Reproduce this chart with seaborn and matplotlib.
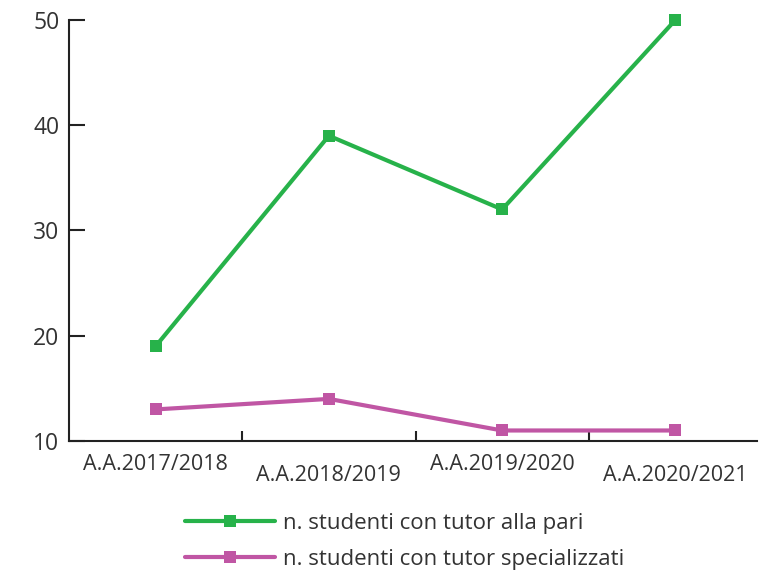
import matplotlib
matplotlib.use("Agg")
import matplotlib.pyplot as plt
import seaborn as sns
import pandas as pd

years = ["A.A.2017/2018", "A.A.2018/2019", "A.A.2019/2020", "A.A.2020/2021"]
peer_tutor = [19, 39, 32, 50]
specialist_tutor = [13, 14, 11, 11]
series_names = ["n. studenti con tutor alla pari", "n. studenti con tutor specializzati"]
colors = ["#27b24a", "#c056a4"]

df = pd.DataFrame({
    "pos": list(range(len(years))) * 2,
    "value": peer_tutor + specialist_tutor,
    "serie": [series_names[0]] * len(years) + [series_names[1]] * len(years),
})

sns.set_style("white")
plt.rcParams["font.family"] = ["Open Sans", "DejaVu Sans"]

fig = plt.figure(figsize=(7.6, 5.7), dpi=100)
ax = fig.add_axes([0.0908, 0.2263, 0.905, 0.7387])

sns.lineplot(
    data=df, x="pos", y="value", hue="serie", style="serie",
    palette=colors, markers=["s", "s"], dashes=False,
    linewidth=3, markersize=9, markeredgewidth=0, ax=ax, clip_on=False,
)

ax.set_xlim(-0.5, 3.47)
ax.set_ylim(10, 50)
ax.set_yticks([10, 20, 30, 40, 50])
ax.set_xticks(range(len(years)))
ax.set_xticklabels(years)
ax.set_xticks([0.5, 1.5, 2.5], minor=True)
ax.set_xlabel("")
ax.set_ylabel("")

for s in ["top", "right"]:
    ax.spines[s].set_visible(False)
for s in ["left", "bottom"]:
    ax.spines[s].set_color("#222222")
    ax.spines[s].set_linewidth(1.5)

ax.tick_params(axis="y", left=True, direction="in", length=11.5, width=1.5, color="#222222",
               labelsize=16.5, labelcolor="#333333", pad=7)
ax.tick_params(axis="x", which="major", bottom=False, length=0, labelsize=15.5,
               labelcolor="#333333", pad=9)
ax.tick_params(axis="x", which="minor", bottom=True, direction="in", length=7.5, width=1.5,
               color="#222222")
for i, t in enumerate(ax.xaxis.get_major_ticks()):
    if i % 2 == 1:
        t.set_pad(17)

ax.legend(
    loc="upper left", bbox_to_anchor=(0.14, -0.123), frameon=False,
    fontsize=16, handlelength=4.05, labelspacing=0.68, handletextpad=0.35,
    labelcolor="#333333",
)

fig.savefig("out.png", dpi=100)
